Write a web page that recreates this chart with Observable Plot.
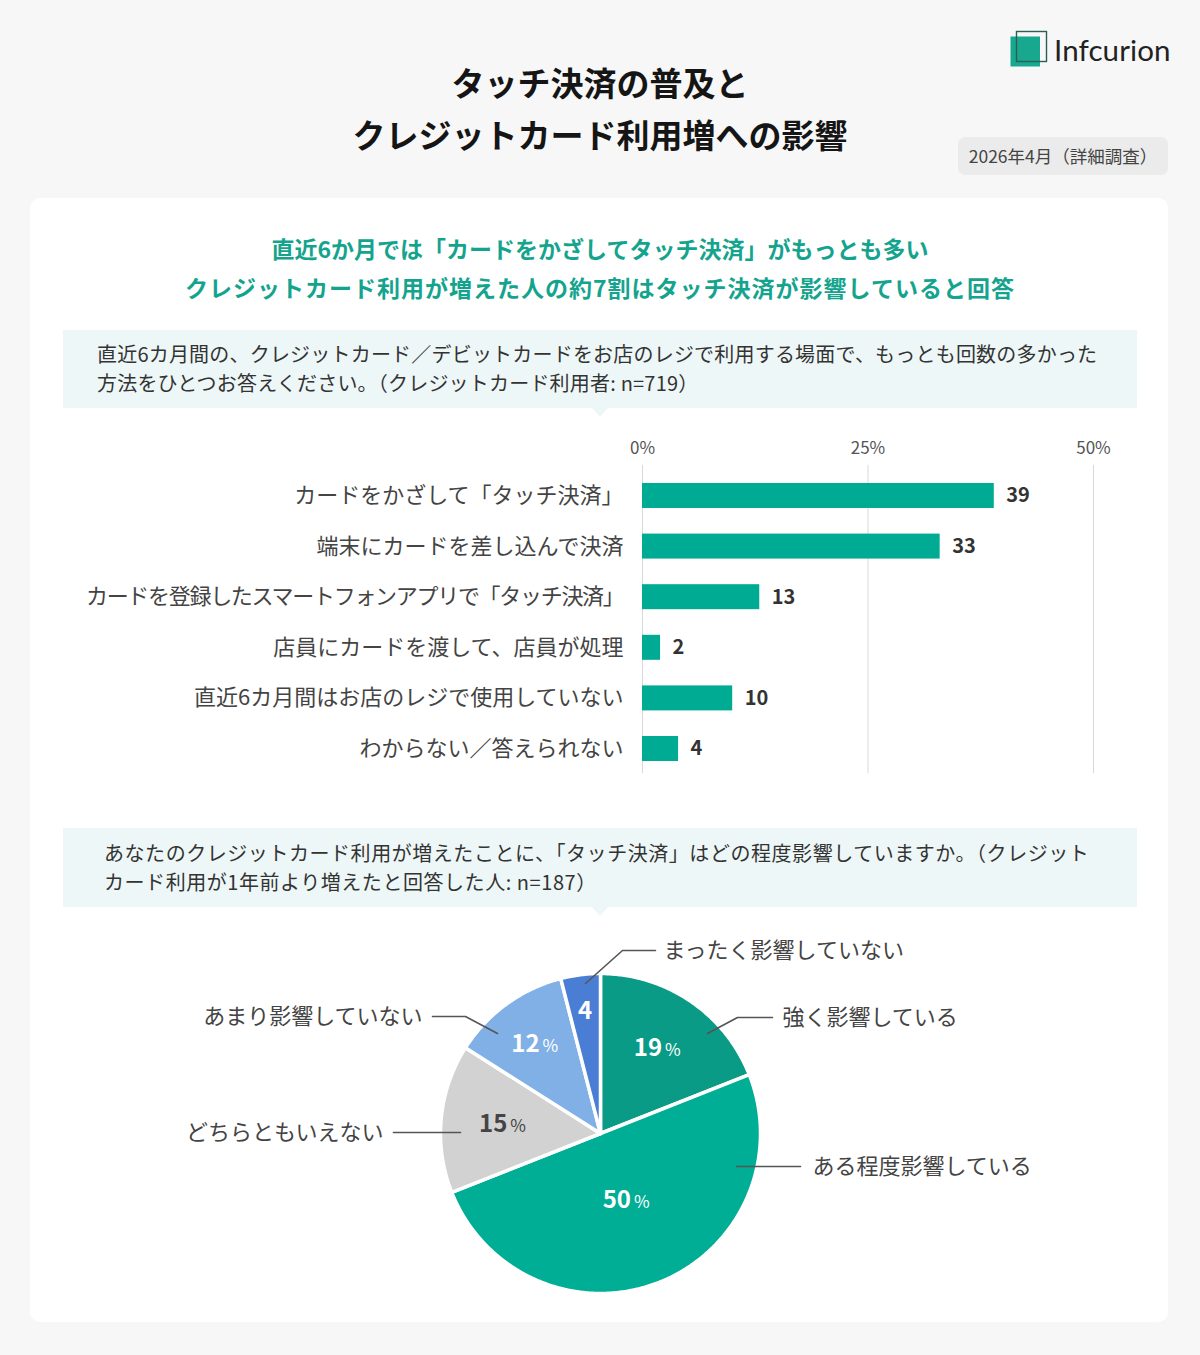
<!DOCTYPE html>
<html lang="ja">
<head>
<meta charset="utf-8">
<script src="https://cdn.jsdelivr.net/npm/d3@7"></script>
<script src="https://cdn.jsdelivr.net/npm/@observablehq/plot@0.6"></script>
<style>
  html, body { margin: 0; padding: 0; background: #f7f7f7; }
  body { font-family: "Noto Sans CJK JP", "Noto Sans", sans-serif; }
  #page { position: relative; width: 1200px; height: 1355px; background: #f7f7f7; overflow: hidden; }
  .abs { position: absolute; }
  #title { left: 0; width: 1200px; top: 56px; text-align: center; font-size: 33px; font-weight: 700; color: #151515; line-height: 52px; }
  #logo { left: 1008px; top: 30px; }
  #logotext { left: 1054px; top: 32px; font-family: "Lato", "Inter", sans-serif; font-size: 29.5px; color: #222; letter-spacing: 0.1px; }
  #badge { left: 958px; top: 137px; width: 210px; height: 38px; background: #ebebeb; border-radius: 7px; font-size: 17.5px; color: #444; line-height: 38px; text-align: center; }
  #card { left: 30px; top: 198px; width: 1138px; height: 1124px; background: #fff; border-radius: 10px; }
  #headline { left: 0; width: 1200px; top: 229px; text-align: center; font-size: 23px; font-weight: 700; color: #14a48e; line-height: 39px; white-space: nowrap; }
  .qbox { left: 63px; width: 1074px; background: #eef7f7; }
  .qbox .qt { position: absolute; font-size: 20px; color: #333; line-height: 28.5px; white-space: nowrap; }
  .tri { position: absolute; left: 529px; width: 0; height: 0; border-left: 8px solid transparent; border-right: 8px solid transparent; border-top: 9px solid #eef7f7; }
  #q1 { top: 330px; height: 78px; }
  #q2 { top: 828px; height: 79px; }
  #bars { left: 0; top: 420px; }
  #pie { left: 0; top: 925px; }
</style>
</head>
<body>
<div id="page">
  <div id="card" class="abs"></div>
  <div id="title" class="abs">タッチ決済の普及と<br>クレジットカード利用増への影響</div>
  <svg id="logo" class="abs" width="44" height="42" viewBox="0 0 44 42">
    <rect x="2.5" y="6.5" width="29.5" height="30" fill="#17a88f"/>
    <rect x="8.5" y="1.5" width="30" height="30" fill="none" stroke="#2a5f55" stroke-width="1.4"/>
  </svg>
  <div id="logotext" class="abs">Infcurion</div>
  <div id="badge" class="abs">2026年4月（詳細調査）</div>
  <div id="headline" class="abs">直近6か月では「カードをかざしてタッチ決済」がもっとも多い<br><span style="letter-spacing:1px">クレジットカード利用が増えた人の約7割はタッチ決済が影響していると回答</span></div>
  <div id="q1" class="abs qbox">
    <div class="qt" style="left:34px; top:10px; letter-spacing:0.2px;">直近6カ月間の、クレジットカード／デビットカードをお店のレジで利用する場面で、もっとも回数の多かった<br>方法をひとつお答えください。（クレジットカード利用者: n=719）</div>
    <div class="tri" style="top:78px;"></div>
  </div>
  <div id="q2" class="abs qbox">
    <div class="qt" style="left:41px; top:11px; letter-spacing:0.55px;">あなたのクレジットカード利用が増えたことに、「タッチ決済」はどの程度影響していますか。（クレジット<br>カード利用が1年前より増えたと回答した人: n=187）</div>
    <div class="tri" style="top:79px;"></div>
  </div>
  <div id="bars" class="abs"></div>
  <div id="pie" class="abs"></div>
</div>
<script>
// ---- Data ----
const barCategories = [
  "カードをかざして「タッチ決済」",
  "端末にカードを差し込んで決済",
  "カードを登録したスマートフォンアプリで「タッチ決済」",
  "店員にカードを渡して、店員が処理",
  "直近6カ月間はお店のレジで使用していない",
  "わからない／答えられない"
];
const barValues = [39, 33, 13, 2, 10, 4];
const xTickValues = [0, 25, 50];

const pieCategories = [
  "強く影響している",
  "ある程度影響している",
  "どちらともいえない",
  "あまり影響していない",
  "まったく影響していない"
];
const pieValues = [19, 50, 15, 12, 4];
const pieSuffix = ["%", "%", "%", "%", ""];

// ---- Styles / layout ----
const FONT = '"Noto Sans CJK JP", "Noto Sans", sans-serif';
const barColor = "#00ab94";
const pieColors = ["#0a9b86", "#00ad95", "#d2d2d2", "#80b0e6", "#4a7ed4"];
const pieLabelFill = ["#fff", "#fff", "#444", "#fff", "#fff"];
const pieLabelRadius = [0.64, 0.45, 0.61, 0.69, 0.77];
const R = 160;
// leader line paths (pixel offsets from pie centre) and label anchors
const leaderLayout = [
  {pts: [[107, -100], [137, -116], [172, -116]], tx: 182, ty: -116, anchor: "start"},
  {pts: [[136, 33], [200, 33]], tx: 212, ty: 33, anchor: "start"},
  {pts: [[-140, -1], [-207, -1]], tx: -217, ty: -1, anchor: "end"},
  {pts: [[-103, -100], [-135, -117], [-168, -117]], tx: -178, ty: -117, anchor: "end"},
  {pts: [[-15, -150], [22, -183], [55, -183]], tx: 63, ty: -183, anchor: "start"}
];

// ---- Bar chart ----
const barData = barCategories.map((c, i) => ({cat: c, value: barValues[i]}));
const bars = Plot.plot({
  width: 1200,
  height: 360,
  marginLeft: 642,
  marginRight: 107,
  marginTop: 45,
  marginBottom: 7,
  style: {fontFamily: FONT, background: "transparent", overflow: "visible"},
  x: {domain: [0, 50], axis: null},
  y: {domain: barCategories, paddingInner: 0.506, paddingOuter: 0.296, align: 0.6, round: false, axis: null},
  marks: [
    Plot.gridX(xTickValues, {stroke: "#d9d9d9", strokeOpacity: 1, strokeWidth: 1}),
    Plot.axisX(xTickValues, {anchor: "top", tickSize: 0, tickPadding: 12, tickFormat: d => d + "%", fontSize: 17, fill: "#555", label: null}),
    Plot.axisY({tickSize: 0, tickPadding: 19, fontSize: 22, fill: "#444", label: null, textAnchor: "end"}),
    Plot.barX(barData, {y: "cat", x: "value", fill: barColor}),
    Plot.text(barData, {y: "cat", x: "value", text: d => String(d.value), dx: 12, textAnchor: "start", fontSize: 20, fontWeight: 700, fill: "#333"})
  ]
});
// the reference sets the bracket-heavy long label more tightly
d3.select(bars).selectAll("text").filter(function () { return this.textContent.length > 22; }).attr("letter-spacing", "-1.3px");
document.getElementById("bars").appendChild(bars);

// ---- Pie chart ----
const total = d3.sum(pieValues);
let cum = 0;
const slices = pieCategories.map((c, i) => {
  const a0 = cum / total * 2 * Math.PI;
  cum += pieValues[i];
  const a1 = cum / total * 2 * Math.PI;
  return {cat: c, value: pieValues[i], a0, a1, i};
});
const polyPts = [];
slices.forEach(s => {
  polyPts.push({cat: s.cat, x: 0, y: 0});
  const n = Math.max(8, Math.ceil((s.a1 - s.a0) / 0.01));
  for (let k = 0; k <= n; k++) {
    const a = s.a0 + (s.a1 - s.a0) * k / n;
    polyPts.push({cat: s.cat, x: R * Math.sin(a), y: -R * Math.cos(a)});
  }
  polyPts.push({cat: s.cat, x: 0, y: 0});
});
const labelPts = slices.map(s => {
  const a = (s.a0 + s.a1) / 2;
  const r = R * pieLabelRadius[s.i];
  return {cat: s.cat, value: s.value, suffix: pieSuffix[s.i], x: r * Math.sin(a), y: -r * Math.cos(a), fill: pieLabelFill[s.i]};
});
const leaderPts = [];
leaderLayout.forEach((l, i) => l.pts.forEach(p => leaderPts.push({cat: pieCategories[i], x: p[0], y: p[1]})));
const leaderText = leaderLayout.map((l, i) => ({cat: pieCategories[i], x: l.tx, y: l.ty, anchor: l.anchor}));

const pie = Plot.plot({
  width: 1200,
  height: 390,
  margin: 0,
  style: {fontFamily: FONT, background: "transparent", overflow: "visible"},
  x: {domain: [-600, 600], range: [0, 1200], axis: null},
  y: {domain: [-208, 182], range: [0, 390], axis: null},
  color: {type: "ordinal", domain: pieCategories, range: pieColors},
  marks: [
    Plot.line(polyPts, {x: "x", y: "y", z: "cat", fill: "cat", stroke: "#fff", strokeWidth: 3.5, strokeLinejoin: "round", curve: "linear"}),
    Plot.line(leaderPts, {x: "x", y: "y", z: "cat", stroke: "#555", strokeWidth: 1.6, curve: "linear"}),
    Plot.text(leaderText.filter(d => d.anchor === "start"), {x: "x", y: "y", text: "cat", textAnchor: "start", fontSize: 22, fill: "#444"}),
    Plot.text(leaderText.filter(d => d.anchor === "end"), {x: "x", y: "y", text: "cat", textAnchor: "end", fontSize: 22, fill: "#444"}),
    Plot.text(labelPts.filter(d => d.suffix), {x: "x", y: "y", text: d => String(d.value), dx: 4, textAnchor: "end", fontSize: 24, fontWeight: 600, fill: d => d.fill}),
    Plot.text(labelPts.filter(d => d.suffix), {x: "x", y: "y", text: "suffix", dx: 7, dy: 2, textAnchor: "start", fontSize: 17, fill: d => d.fill}),
    Plot.text(labelPts.filter(d => !d.suffix), {x: "x", y: "y", text: d => String(d.value), textAnchor: "middle", fontSize: 24, fontWeight: 600, fill: d => d.fill})
  ]
});
document.getElementById("pie").appendChild(pie);
</script>
</body>
</html>
